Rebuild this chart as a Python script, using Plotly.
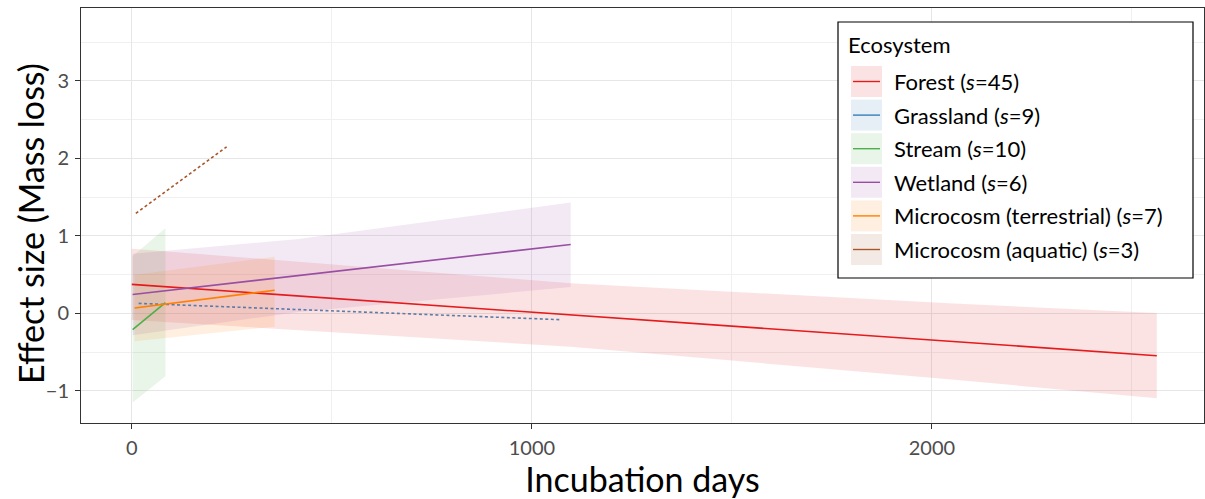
import plotly.graph_objects as go

# ---------------- data ----------------
names = ["Forest", "Grassland", "Stream", "Wetland",
         "Microcosm (terrestrial)", "Microcosm (aquatic)"]
sizes = [45, 9, 10, 6, 7, 3]
colors = ["#E41A1C", "#377EB8", "#4DAF4A", "#984EA3", "#FF7F00", "#A65628"]

forest_x = [0, 2562]
forest_y = [0.375, -0.545]
forest_rx = [0, 384, 1097, 2042, 2562]
forest_lo = [-0.085, -0.203, -0.429, -0.848, -1.095]
forest_hi = [0.835, 0.677, 0.391, 0.132, 0.005]

grass_x = [17, 1070]
grass_y = [0.13, -0.08]

stream_x = [2, 84]
stream_y = [-0.21, 0.14]
stream_rx = [2, 84]
stream_lo = [-1.15, -0.81]
stream_hi = [0.74, 1.10]

wet_x = [2, 1097]
wet_y = [0.245, 0.89]
wet_rx = [2, 417, 1097]
wet_lo = [-0.28, 0.02, 0.34]
wet_hi = [0.77, 0.96, 1.43]

terr_x = [7, 357]
terr_y = [0.07, 0.30]
terr_rx = [7, 357]
terr_lo = [-0.36, -0.17]
terr_hi = [0.50, 0.73]

aqua_x = [10, 237]
aqua_y = [1.29, 2.15]

x_ticks = [0, 1000, 2000]
y_ticks = [-1, 0, 1, 2, 3]

# ---------------- helpers ----------------
def rgba(hexc, a):
    h = hexc.lstrip("#")
    r, g, b = int(h[0:2], 16), int(h[2:4], 16), int(h[4:6], 16)
    return f"rgba({r},{g},{b},{a})"

FILL_A = 0.12

fig = go.Figure()

def ribbon(rx, lo, hi, color):
    fig.add_trace(go.Scatter(x=rx + rx[::-1], y=hi + lo[::-1], fill="toself",
                             fillcolor=rgba(color, FILL_A), line=dict(width=0),
                             mode="lines", hoverinfo="skip", showlegend=False))

ribbon(forest_rx, forest_lo, forest_hi, colors[0])
ribbon(stream_rx, stream_lo, stream_hi, colors[2])
ribbon(wet_rx, wet_lo, wet_hi, colors[3])
ribbon(terr_rx, terr_lo, terr_hi, colors[4])

def line(x, y, color, dash="solid"):
    fig.add_trace(go.Scatter(x=x, y=y, mode="lines",
                             line=dict(color=color, width=1.6, dash=dash),
                             showlegend=False))

line(forest_x, forest_y, colors[0])
line(grass_x, grass_y, "#5A7CA8", "3px,2.5px")
line(stream_x, stream_y, colors[2])
line(wet_x, wet_y, colors[3])
line(terr_x, terr_y, colors[4])
line(aqua_x, aqua_y, colors[5], "3px,2.5px")

# ---------------- layout ----------------
W, H = 1205, 499
ML, MR, MT, MB = 81, 1, 8, 76
PW, PH = W - ML - MR, H - MT - MB

def px_x(p):
    return (p - ML) / PW

def px_y(p):
    return (H - MB - p) / PH

FONT = "Lato"

fig.update_layout(
    width=W, height=H,
    margin=dict(l=ML, r=MR, t=MT, b=MB),
    paper_bgcolor="white", plot_bgcolor="white",
    font=dict(family=FONT, color="#000000"),
    showlegend=False,
)

fig.update_xaxes(
    range=[-127, 2680], tickvals=x_ticks, ticktext=[str(v) for v in x_ticks],
    showgrid=True, gridcolor="#E6E6E6", gridwidth=1,
    minor=dict(dtick=500, tick0=0, showgrid=True, gridcolor="#F0F0F0", gridwidth=1),
    showline=True, linecolor="#333333", linewidth=1, mirror=True,
    ticks="outside", ticklen=5, tickcolor="#333333",
    ticklabelstandoff=2,
    tickfont=dict(size=20, color="#4D4D4D", family=FONT),
    title=dict(text="Incubation days", font=dict(size=34, family=FONT), standoff=2),
    zeroline=False,
)
fig.update_yaxes(
    range=[-1.413, 3.94], tickvals=y_ticks,
    showgrid=True, gridcolor="#E6E6E6", gridwidth=1,
    minor=dict(dtick=0.5, tick0=0, showgrid=True, gridcolor="#F0F0F0", gridwidth=1),
    showline=True, linecolor="#333333", linewidth=1, mirror=True,
    ticks="outside", ticklen=5, tickcolor="#333333",
    ticklabelstandoff=2,
    tickfont=dict(size=20, color="#4D4D4D", family=FONT),
    zeroline=False,
)

shapes = []
annotations = []

# y-axis title (placed as in the reference, slightly below the panel centre)
annotations.append(dict(xref="paper", yref="paper", x=px_x(30), y=px_y(224),
                        xanchor="center", yanchor="middle", showarrow=False,
                        textangle=-90, text="Effect size (Mass loss)",
                        font=dict(size=34, family=FONT, color="#000000")))

# ---------------- custom legend (ggplot style keys) ----------------
LX0, LX1, LY0, LY1 = 838, 1193, 22, 278
shapes.append(dict(type="rect", xref="paper", yref="paper",
                   x0=px_x(LX0), x1=px_x(LX1), y0=px_y(LY1), y1=px_y(LY0),
                   fillcolor="white", line=dict(color="#000000", width=1.2), layer="above"))
annotations.append(dict(xref="paper", yref="paper", x=px_x(846), y=px_y(45),
                        xanchor="left", yanchor="middle", showarrow=False,
                        text="Ecosystem", font=dict(size=22, family=FONT, color="#000000")))
for i, (nm, s, c) in enumerate(zip(names, sizes, colors)):
    top = 66 + 33.6 * i
    bot = top + 31
    cy = (top + bot) / 2
    shapes.append(dict(type="rect", xref="paper", yref="paper",
                       x0=px_x(851), x1=px_x(882), y0=px_y(bot), y1=px_y(top),
                       fillcolor=rgba(c, 0.12), line=dict(width=0), layer="above"))
    shapes.append(dict(type="line", xref="paper", yref="paper",
                       x0=px_x(853), x1=px_x(880), y0=px_y(cy), y1=px_y(cy),
                       line=dict(color=c, width=1.4), layer="above"))
    annotations.append(dict(xref="paper", yref="paper", x=px_x(892), y=px_y(cy),
                            xanchor="left", yanchor="middle", showarrow=False,
                            text=f"{nm} (<i>s</i>={s})",
                            font=dict(size=22, family=FONT, color="#000000")))

fig.update_layout(shapes=shapes, annotations=annotations)

fig.write_html("out.html")
